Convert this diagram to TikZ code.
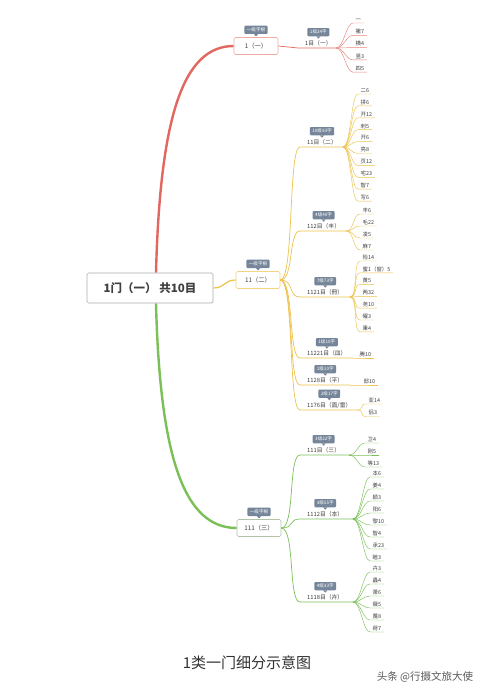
\documentclass[tikz,border=0pt]{standalone}
\usepackage{fontspec}
\setmainfont{Noto Sans CJK SC}
\definecolor{rc}{HTML}{E2675E}
\definecolor{yc}{HTML}{EEC24A}
\definecolor{gc}{HTML}{7BBF57}
\definecolor{tagc}{HTML}{76869A}
\definecolor{txt}{HTML}{404040}
\pgfdeclarelayer{bg}
\pgfsetlayers{bg,main}
\newcommand\tagon[3]{\node[tagbox,anchor=south] (#1) at ([yshift=3pt]#2.north) {#3};
  \fill[tagc] ([xshift=-2pt]#1.south) -- ([xshift=2pt]#1.south) -- ([yshift=-2.2pt]#1.south) -- cycle;}
\newcommand\leafset[7]{\foreach \t [count=\i] in {#7} {
  \node[leaf] (#1-\i) at (#3,{#4+#5*(\i-1)}) {\t};
  \draw[#6] (#2) .. controls +(8,0) and +(-7,0) .. (#1-\i.south west) -- (#1-\i.south east);}}
\begin{document}
\begin{tikzpicture}[x=1pt,y=-1pt,
  leaf/.style={anchor=south west,font=\fontsize{5.4}{6}\selectfont,text=txt,inner xsep=2.5pt,inner ysep=1pt},
  sub/.style={anchor=south west,font=\fontsize{5.8}{7}\selectfont,text=txt,inner xsep=7pt,inner ysep=1.3pt},
  tagbox/.style={fill=tagc,text=white,font=\fontsize{4.6}{5}\selectfont,rounded corners=1pt,inner xsep=2.5pt,inner ysep=2pt},
  lvl/.style={draw,fill=white,rounded corners=1.5pt,font=\fontsize{6.3}{8}\selectfont,text=txt,minimum width=44pt,minimum height=17pt,line width=0.6pt},
  rootbox/.style={draw=gray!65,fill=white,rounded corners=1.5pt,font=\fontsize{11.5}{14}\selectfont\bfseries,text=txt,minimum width=126pt,minimum height=30pt,line width=0.7pt},
  rl/.style={rc,line width=0.7pt}, yl/.style={yc,line width=0.7pt}, gl/.style={gc,line width=0.7pt},
  rlf/.style={rc!80,line width=0.45pt}, ylf/.style={yc,line width=0.45pt}, glf/.style={gc,line width=0.45pt}]
\useasboundingbox (0,0) rectangle (495,698);
\begin{pgfonlayer}{bg}
\fill[white] (0,0) rectangle (495,698);
\end{pgfonlayer}
% root and level-1 nodes
\node[rootbox] (root) at (150,288) {1门（一） 共10目};
\node[lvl,draw=rc!55] (a) at (256,46) {1（一）};
\node[lvl,draw=yc!70] (b) at (258,280) {11（二）};
\node[lvl,draw=gc!45!gray!60] (c) at (259,528) {111（三）};
% main curves
\begin{pgfonlayer}{bg}
\draw[rc,line width=2.4pt] ([xshift=6pt]root.north) .. controls (160,120) and (182,46) .. (a.west);
\draw[gc,line width=2.4pt] ([xshift=6pt]root.south) .. controls (160,460) and (185,528) .. (c.west);
\draw[yc,line width=1.2pt] (root.east) .. controls +(12,0) and +(-12,0) .. (b.west);
\end{pgfonlayer}
\tagon{ta}{a}{一级字根}
\tagon{tb}{b}{一级字根}
\tagon{tc}{c}{一级字根}
% ---- branch 1 ----
\node[sub] (a1) at (298,48) {1目（一）};
\coordinate (a1j) at (336,48);
\draw[rl] (a.east) -- (a1.south west) -- (a1j);
\tagon{ta1}{a1}{1级24字}
\leafset{a1l}{a1j}{353}{23}{12.3}{rlf}{一,撇7,横4,竖3,四5}
% ---- branch 2 ----
\node[sub] (b1) at (300,147) {11目（二）};
\coordinate (b1j) at (343,147);
\draw[yl] (b.east) .. controls +(14,0) and +(-12,0) .. (b1.south west) -- (b1j);
\tagon{tb1}{b1}{10级93字}
\leafset{b1l}{b1j}{358}{94}{11.9}{ylf}{二6,拼6,开12,刺5,开6,亮8,页12,宅23,智7,写6}
\node[sub] (b2) at (300,231) {112目（丰）};
\coordinate (b2j) at (346,231);
\draw[yl] (b.east) .. controls +(14,0) and +(-12,0) .. (b2.south west) -- (b2j);
\tagon{tb2}{b2}{4级40字}
\leafset{b2l}{b2j}{360}{214}{12}{ylf}{丰6,毛22,凌5,麻7}
\node[sub] (b3) at (300,297) {1121目（冊）};
\coordinate (b3j) at (350,297);
\draw[yl] (b.east) .. controls +(14,0) and +(-12,0) .. (b3.south west) -- (b3j);
\tagon{tb3}{b3}{7级73字}
\leafset{b3l}{b3j}{360}{261}{11.8}{ylf}{险14,蜜1（窗）5,黄5,两32,尧10,曜3,秉4}
\node[sub] (b4) at (300,358) {11221目（皿）};
\draw[yl] (b.east) .. controls +(14,0) and +(-12,0) .. (b4.south west) -- (b4.south east);
\tagon{tb4}{b4}{1级10字}
\node[leaf] (b4l) at (357,358) {腾10};
\draw[ylf] (b4.south east) -- (b4l.south west) -- (b4l.south east);
\node[sub] (b5) at (300,385) {1128目（平）};
\draw[yl] (b.east) .. controls +(14,0) and +(-12,0) .. (b5.south west) -- (b5.south east);
\tagon{tb5}{b5}{1级10字}
\node[leaf] (b5l) at (361,385) {邸10};
\draw[ylf] (b5.south east) -- (b5l.south west) -- (b5l.south east);
\node[sub] (b6) at (300,410) {1176目（面/雷）};
\coordinate (b6j) at (357,410);
\draw[yl] (b.east) .. controls +(14,0) and +(-12,0) .. (b6.south west) -- (b6j);
\tagon{tb6}{b6}{2级17字}
\leafset{b6l}{b6j}{366}{404}{12.5}{ylf}{亚14,侣3}
% ---- branch 3 ----
\node[sub] (c1) at (300,455) {111目（三）};
\coordinate (c1j) at (349,455);
\draw[gl] (c.east) .. controls +(14,0) and +(-12,0) .. (c1.south west) -- (c1j);
\tagon{tc1}{c1}{3级22字}
\leafset{c1l}{c1j}{365}{443}{12}{glf}{卫4,刚5,等13}
\node[sub] (c2) at (300,519) {1112目（本）};
\coordinate (c2j) at (353,519);
\draw[gl] (c.east) .. controls +(14,0) and +(-12,0) .. (c2.south west) -- (c2j);
\tagon{tc2}{c2}{3级55字}
\leafset{c2l}{c2j}{370}{477}{12}{glf}{本6,姜4,颖3,阳6,黎10,智4,承23,睦3}
\node[sub] (c3) at (300,602) {1118目（卉）};
\coordinate (c3j) at (353,602);
\draw[gl] (c.east) .. controls +(14,0) and +(-12,0) .. (c3.south west) -- (c3j);
\tagon{tc3}{c3}{4级33字}
\leafset{c3l}{c3j}{370}{572}{12}{glf}{卉3,蟲4,萧6,薇5,蔑8,荷7}
% caption
\node[font=\fontsize{15}{18}\selectfont,text=black!80] (cap) at (247,663) {1类一门细分示意图};
\node[font=\fontsize{10.5}{12}\selectfont,text=black!65] (wm) at (425,677) {头条 @行摄文旅大使};
\end{tikzpicture}
\end{document}
